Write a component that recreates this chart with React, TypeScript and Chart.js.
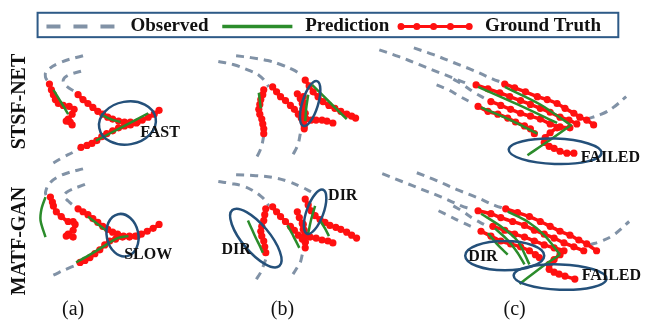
import React, { useEffect, useRef } from "react";
import { Chart, registerables } from "chart.js";

Chart.register(...registerables);

type P = [number, number];

// ---------- Panel (a) top: STSF-NET ----------
const obsA1T: P[] = [[80, 53], [57, 60], [43, 69], [42, 75], [45, 80]];
const obsA2T: P[] = [[78, 69], [65, 73], [60, 78], [63, 84], [72, 90]];
const obsA3T: P[] = [[50, 163], [60, 157], [70, 152], [78, 147]];
const gtA1T: P[] = [[46, 82], [48, 88], [50, 93], [52, 98], [55, 102], [60, 104], [66, 105], [71, 108], [69, 113], [65, 118], [63, 120], [67, 121], [69, 124]];
const gtA2T: P[] = [[75, 93], [80, 98], [85, 102], [90, 106], [95, 110], [100, 113], [105, 116], [110, 118], [116, 120], [122, 121], [128, 121], [135, 121]];
const gtA3T: P[] = [[78, 147], [84, 145], [89, 143], [94, 140], [99, 136], [104, 133], [110, 130], [116, 127], [122, 125], [128, 124], [134, 122], [140, 119], [146, 116], [152, 113], [157, 109]];
const prA1T: P[] = [[50, 88], [58, 101], [65, 113]];
const prA2T: P[] = [[98, 113], [108, 118], [118, 121]];
const prA3T: P[] = [[93, 140], [120, 126], [146, 112]];

// ---------- Panel (a) bottom: MATF-GAN ----------
const obsA1B: P[] = [[80, 169], [65, 173], [55, 177], [46, 184], [42, 193], [43, 197]];
const obsA2B: P[] = [[82, 185], [65, 192], [61, 197], [65, 202], [72, 208]];
const obsA3B: P[] = [[50, 278], [65, 271], [80, 265]];
const gtA1B: P[] = [[47, 198], [49, 203], [50, 207], [53, 213], [58, 218], [65, 223], [70, 223], [72, 226], [70, 232], [65, 236], [63, 238], [70, 239]];
const gtA2B: P[] = [[75, 210], [80, 213], [85, 216], [90, 220], [95, 224], [100, 228], [105, 231], [110, 234], [115, 236], [121, 238], [127, 239], [133, 238], [139, 236], [145, 233], [151, 230], [157, 226]];
const gtA3B: P[] = [[77, 265], [82, 263], [87, 260], [92, 256], [97, 252], [102, 247], [107, 243], [113, 241], [120, 239], [127, 238], [135, 238]];
const prA1B: P[] = [[42, 198], [38, 210], [37, 222], [42, 239]];
const prA2B: P[] = [[85, 218], [94, 225], [103, 232]];
const prA3B: P[] = [[73, 265], [87, 257], [100, 249], [115, 240], [126, 238]];

// ---------- Panel (b) top ----------
const obsB1T: P[] = [[217, 59], [232, 62], [248, 68], [258, 73], [265, 80], [268, 85]];
const obsB2T: P[] = [[235, 53], [250, 55], [267, 58], [280, 62], [292, 67], [302, 73]];
const obsB3T: P[] = [[263, 135], [261, 145], [258, 153], [254, 160]];
const obsB4T: P[] = [[300, 133], [298, 143], [295, 150], [291, 157]];
const gtB1T: P[] = [[263, 88], [262, 93], [260, 98], [259, 103], [258, 108], [259, 113], [261, 118], [262, 123], [263, 128], [263, 133]];
const gtB2T: P[] = [[272, 85], [276, 90], [280, 95], [285, 99], [290, 104], [294, 108], [298, 113], [301, 117], [303, 121]];
const gtB3T: P[] = [[305, 78], [309, 84], [313, 90], [318, 95], [323, 100], [329, 104], [335, 107], [341, 110], [347, 113], [352, 115], [356, 117]];
const gtB4T: P[] = [[297, 92], [300, 97], [302, 102], [303, 107], [305, 112], [306, 118], [311, 119], [316, 119], [322, 119], [327, 120], [333, 122]];
const gtB5T: P[] = [[303, 95], [303, 101], [303, 107], [304, 113], [304, 119], [304, 125], [304, 128]];
const prB1T: P[] = [[258, 91], [259, 99], [260, 107]];
const prB2T: P[] = [[312, 83], [330, 101], [347, 118]];
const prB3T: P[] = [[308, 93], [306, 107], [305, 120]];

// ---------- Panel (b) bottom ----------
const obsB1B: P[] = [[217, 182], [230, 184], [243, 187], [253, 192], [260, 197], [265, 202], [268, 207]];
const obsB2B: P[] = [[235, 175], [255, 176], [273, 178], [288, 182], [300, 187], [312, 193]];
const obsB3B: P[] = [[265, 262], [262, 270], [260, 275], [255, 283]];
const obsB4B: P[] = [[302, 257], [300, 265], [297, 270], [292, 278]];
const gtB1B: P[] = [[265, 210], [264, 216], [263, 222], [261, 228], [260, 233], [261, 238], [263, 243], [264, 249], [265, 255]];
const gtB2B: P[] = [[272, 208], [276, 213], [280, 218], [285, 223], [290, 228], [294, 232], [298, 237], [302, 241], [305, 244]];
const gtB3B: P[] = [[305, 200], [308, 206], [311, 212], [315, 217], [320, 221], [325, 224], [330, 227], [336, 229], [341, 231], [347, 234], [352, 237], [357, 240]];
const gtB4B: P[] = [[297, 213], [299, 219], [302, 225], [303, 231], [305, 237], [310, 239], [316, 240], [322, 242], [328, 243], [333, 245]];
const gtB5B: P[] = [[303, 226], [304, 232], [304, 238], [305, 244], [305, 250]];
const prB1B: P[] = [[247, 222], [251, 231], [255, 240], [259, 248], [262, 255]];
const prB2B: P[] = [[287, 227], [293, 238], [299, 250]];
const prB3B: P[] = [[315, 207], [311, 221], [308, 235]];
const prB4B: P[] = [[320, 222], [325, 230], [329, 238]];

// ---------- Panel (c) top ----------
const obsC1T: P[] = [[380, 47], [400, 54], [420, 62], [440, 70], [460, 78], [470, 82]];
const obsC2T: P[] = [[455, 77], [465, 83], [475, 90], [487, 97]];
const obsC3T: P[] = [[415, 45], [435, 52], [455, 60], [475, 68], [495, 77], [503, 80]];
const obsC4T: P[] = [[438, 83], [450, 88], [462, 95], [475, 102]];
const obsC5T: P[] = [[590, 118], [605, 113], [617, 106], [630, 95]];
const gtC1T: P[] = [[478, 83], [490, 87], [502, 91], [512, 95], [523, 99], [533, 103], [543, 107], [553, 111], [563, 116], [572, 119], [580, 123]];
const gtC2T: P[] = [[507, 82], [517, 86], [528, 90], [540, 95], [550, 98], [560, 102], [568, 107], [577, 112], [583, 116], [590, 119], [597, 124]];
const gtC3T: P[] = [[493, 100], [503, 104], [513, 108], [523, 112], [533, 115], [543, 118], [553, 123], [563, 126], [573, 127]];
const gtC4T: P[] = [[480, 105], [490, 110], [500, 113], [510, 117], [518, 121], [527, 125], [533, 128], [537, 133]];
const gtC5T: P[] = [[560, 127], [553, 132], [548, 137], [547, 142], [552, 146], [557, 148], [563, 151], [570, 153], [577, 153]];
const prC1T: P[] = [[480, 85], [520, 103], [560, 122]];
const prC2T: P[] = [[507, 85], [543, 103], [575, 125]];
const prC3T: P[] = [[483, 106], [515, 120], [540, 133]];
const prC4T: P[] = [[530, 155], [552, 140], [573, 125]];

// ---------- Panel (c) bottom ----------
const obsC1B: P[] = [[383, 174], [403, 182], [423, 190], [443, 198], [463, 207], [472, 210]];
const obsC2B: P[] = [[455, 207], [465, 213], [475, 220], [486, 226]];
const obsC3B: P[] = [[418, 173], [438, 181], [458, 190], [478, 198], [498, 207], [505, 209]];
const obsC4B: P[] = [[440, 212], [452, 218], [464, 224], [477, 230]];
const obsC5B: P[] = [[593, 247], [605, 243], [617, 237], [633, 223]];
const gtC1B: P[] = [[480, 212], [493, 215], [503, 219], [515, 223], [527, 227], [537, 232], [547, 236], [557, 240], [567, 245], [577, 249], [587, 253]];
const gtC2B: P[] = [[508, 210], [520, 214], [532, 218], [543, 223], [553, 228], [563, 233], [573, 237], [582, 242], [590, 246], [600, 253]];
const gtC3B: P[] = [[495, 228], [507, 232], [517, 236], [527, 239], [537, 243], [547, 247], [557, 250], [567, 253]];
const gtC4B: P[] = [[483, 233], [493, 238], [503, 243], [513, 246], [523, 249], [532, 253], [538, 257], [542, 260]];
const gtC5B: P[] = [[563, 257], [557, 262], [552, 267], [552, 272], [557, 275], [562, 277], [568, 279], [578, 282]];
const prC1B: P[] = [[483, 215], [503, 228], [520, 243], [532, 267]];
const prC2B: P[] = [[510, 213], [530, 223], [547, 237], [563, 257]];
const prC3B: P[] = [[497, 230], [510, 242], [520, 255], [527, 267]];
const prC4B: P[] = [[490, 235], [500, 247], [510, 257]];
const prC5B: P[] = [[522, 287], [548, 267], [563, 257]];

const observedSeries: P[][] = [
  obsA1T, obsA2T, obsA3T, obsA1B, obsA2B, obsA3B,
  obsB1T, obsB2T, obsB3T, obsB4T, obsB1B, obsB2B, obsB3B, obsB4B,
  obsC1T, obsC2T, obsC3T, obsC4T, obsC5T, obsC1B, obsC2B, obsC3B, obsC4B, obsC5B,
];
const groundTruthSeries: P[][] = [
  gtA1T, gtA2T, gtA3T, gtA1B, gtA2B, gtA3B,
  gtB1T, gtB2T, gtB3T, gtB4T, gtB5T, gtB1B, gtB2B, gtB3B, gtB4B, gtB5B,
  gtC1T, gtC2T, gtC3T, gtC4T, gtC5T, gtC1B, gtC2B, gtC3B, gtC4B, gtC5B,
];
const predictionSeries: P[][] = [
  prA1T, prA2T, prA3T, prA1B, prA2B, prA3B,
  prB1T, prB2T, prB3T, prB1B, prB2B, prB3B, prB4B,
  prC1T, prC2T, prC3T, prC4T, prC1B, prC2B, prC3B, prC4B, prC5B,
];

// legend / labels
const legendLabels = ["Observed", "Prediction", "Ground Truth"];
const rowLabels = ["STSF-NET", "MATF-GAN"];
const panelLabels = ["(a)", "(b)", "(c)"];

// annotation layout (not data)
const ellipses: [number, number, number, number, number][] = [
  [125, 122, 29, 22, -10],
  [310, 102, 8, 24, 17],
  [558, 151, 47, 13, 2],
  [120, 237, 16, 22, -12],
  [255, 240, 37, 14, 50],
  [315, 213, 8.5, 24, 20],
  [507, 258, 40, 15, 0],
  [563, 280, 47, 13, 2],
];
const notes: [string, number, number][] = [
  ["FAST", 158, 132],
  ["FAILED", 614, 158],
  ["SLOW", 146, 257],
  ["DIR", 235, 252],
  ["DIR", 343, 197],
  ["DIR", 485, 259],
  ["FAILED", 615, 279],
];

const GRAY = "#8192a6";
const GREEN = "#2b8c2b";
const RED = "#ff1010";
const BLUE = "#24507a";
const SERIF = '"Liberation Serif", "Times New Roman", serif';

const toPts = (a: P[]) => a.map(([x, y]) => ({ x, y }));

const overlay = {
  id: "overlay",
  afterDatasetsDraw(chart: any) {
    const ctx: CanvasRenderingContext2D = chart.ctx;
    const xs = chart.scales.x;
    const ys = chart.scales.y;
    const px = (v: number) => xs.getPixelForValue(v);
    const py = (v: number) => ys.getPixelForValue(v);
    const sx = px(1) - px(0);
    const sy = py(1) - py(0);
    ctx.save();
    ctx.strokeStyle = BLUE;
    ctx.lineWidth = 2.5;
    ellipses.forEach(([cx, cy, rx, ry, rot]) => {
      ctx.beginPath();
      ctx.ellipse(px(cx), py(cy), rx * sx, ry * sy, (rot * Math.PI) / 180, 0, Math.PI * 2);
      ctx.stroke();
    });
    ctx.fillStyle = "#111";
    ctx.textAlign = "center";
    ctx.textBaseline = "middle";
    ctx.font = `bold 16px ${SERIF}`;
    notes.forEach(([t, x, y]) => ctx.fillText(t, px(x), py(y)));
    ctx.font = `20px ${SERIF}`;
    const pxs = [70, 282, 517];
    panelLabels.forEach((t, i) => ctx.fillText(t, px(pxs[i]), py(313)));
    ctx.font = `bold 20px ${SERIF}`;
    const rys = [100, 243];
    rowLabels.forEach((t, i) => {
      ctx.save();
      ctx.translate(px(16), py(rys[i]));
      ctx.rotate(-Math.PI / 2);
      ctx.fillText(t, 0, 0);
      ctx.restore();
    });
    // legend
    ctx.strokeStyle = "#2e5a87";
    ctx.lineWidth = 2;
    ctx.strokeRect(px(34), py(9), (622 - 34) * sx, (34 - 9) * sy);
    const ly = py(23);
    ctx.lineWidth = 4;
    ctx.strokeStyle = GRAY;
    ctx.setLineDash([14, 13]);
    ctx.beginPath();
    ctx.moveTo(px(43), ly);
    ctx.lineTo(px(112), ly);
    ctx.stroke();
    ctx.setLineDash([]);
    ctx.strokeStyle = GREEN;
    ctx.lineWidth = 3.5;
    ctx.beginPath();
    ctx.moveTo(px(221), ly);
    ctx.lineTo(px(292), ly);
    ctx.stroke();
    ctx.strokeStyle = RED;
    ctx.lineWidth = 3;
    ctx.beginPath();
    ctx.moveTo(px(401), ly);
    ctx.lineTo(px(473), ly);
    ctx.stroke();
    ctx.fillStyle = RED;
    [402, 418, 435, 452, 471].forEach((x) => {
      ctx.beginPath();
      ctx.arc(px(x), ly, 3.5, 0, Math.PI * 2);
      ctx.fill();
    });
    ctx.fillStyle = "#111";
    ctx.textAlign = "left";
    ctx.textBaseline = "alphabetic";
    ctx.font = `bold 19px ${SERIF}`;
    const lxs = [128, 305, 487];
    legendLabels.forEach((t, i) => ctx.fillText(t, px(lxs[i]), py(28)));
    ctx.restore();
  },
};

export default function App() {
  const ref = useRef<HTMLCanvasElement | null>(null);
  useEffect(() => {
    if (!ref.current) return;
    const datasets: any[] = [];
    observedSeries.forEach((s) =>
      datasets.push({
        data: toPts(s),
        showLine: true,
        borderColor: GRAY,
        borderWidth: 3,
        borderDash: [8, 6],
        pointRadius: 0,
        tension: 0.4,
        order: 3,
      })
    );
    groundTruthSeries.forEach((s) =>
      datasets.push({
        data: toPts(s),
        showLine: true,
        borderColor: RED,
        backgroundColor: RED,
        borderWidth: 3.5,
        pointRadius: 3.6,
        pointBorderWidth: 0,
        tension: 0.2,
        order: 2,
      })
    );
    predictionSeries.forEach((s) =>
      datasets.push({
        data: toPts(s),
        showLine: true,
        borderColor: GREEN,
        borderWidth: 2.5,
        pointRadius: 0,
        tension: 0.3,
        order: 1,
      })
    );
    const chart = new Chart(ref.current, {
      type: "scatter",
      data: { datasets },
      options: {
        animation: false,
        responsive: true,
        maintainAspectRatio: false,
        events: [],
        layout: { padding: 0 },
        plugins: { legend: { display: false }, tooltip: { enabled: false } },
        scales: {
          x: { type: "linear", min: 0, max: 647, display: false },
          y: { type: "linear", min: 0, max: 324, reverse: true, display: false },
        },
      },
      plugins: [overlay],
    });
    return () => chart.destroy();
  }, []);
  return (
    <div style={{ position: "absolute", left: 0, top: 0, width: 647, height: 324, background: "#fff" }}>
      <canvas ref={ref} />
    </div>
  );
}
